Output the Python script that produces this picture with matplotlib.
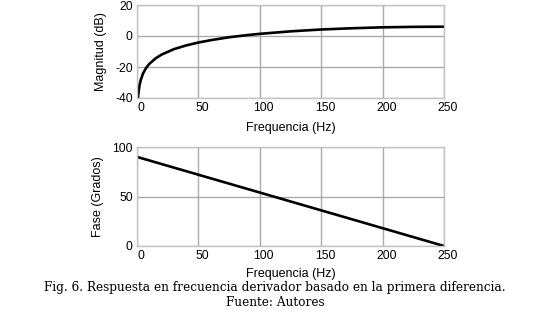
import matplotlib
matplotlib.use("Agg")
import matplotlib.pyplot as plt
from matplotlib.transforms import ScaledTranslation

# Data
freq_mag = [0.5, 1, 2, 3, 5, 7.5, 10, 15, 20, 30, 40, 50, 60, 75, 90, 100,
            125, 150, 175, 200, 225, 250]
magnitude_db = [-44.0, -38.0, -32.0, -28.5, -24.0, -20.5, -18.0, -14.5, -12.0,
                -8.5, -6.1, -4.2, -2.7, -0.8, 0.6, 1.4, 3.0, 4.2, 5.0, 5.6,
                5.9, 6.0]
freq_phase = [0, 50, 100, 150, 200, 250]
phase_deg = [90, 72, 54, 36, 18, 0]

x_ticks = [0, 50, 100, 150, 200, 250]
mag_ticks = [-40, -20, 0, 20]
phase_ticks = [0, 50, 100]

xlabel = "Frequencia (Hz)"
ylabel_mag = "Magnitud (dB)"
ylabel_phase = "Fase (Grados)"
caption1 = "Fig. 6. Respuesta en frecuencia derivador basado en la primera diferencia."
caption2 = "Fuente: Autores"

plt.rcParams['font.family'] = ['Liberation Sans', 'DejaVu Sans']
plt.rcParams['axes.unicode_minus'] = False

W, H = 550, 312
fig = plt.figure(figsize=(W / 100, H / 100), dpi=100)

def frac(l, t, r, b):
    return [l / W, 1 - b / H, (r - l) / W, (b - t) / H]

ax1 = fig.add_axes(frac(137, 5, 444, 98))
ax2 = fig.add_axes(frac(137, 147, 444, 246))

grid_c = '#aaaaaa'
spine_c = '#c4c4c4'

for ax in (ax1, ax2):
    ax.set_xlim(0, 250)
    ax.set_xticks(x_ticks)
    ax.grid(True, color=grid_c, linewidth=1.0)
    ax.set_axisbelow(True)
    for s in ax.spines.values():
        s.set_color(spine_c)
        s.set_linewidth(1.0)
    ax.tick_params(length=0, labelsize=8.8, pad=3, colors='black')
    off = ScaledTranslation(4 / 100, 0, fig.dpi_scale_trans)
    for lab in ax.get_xticklabels():
        lab.set_transform(lab.get_transform() + off)

ax1.plot(freq_mag, magnitude_db, color='black', linewidth=1.9)
ax1.set_ylim(-40, 20)
ax1.set_yticks(mag_ticks)
ax1.set_xlabel(xlabel, fontsize=9, labelpad=6)
ax1.set_ylabel(ylabel_mag, fontsize=9, labelpad=6)

ax2.plot(freq_phase, phase_deg, color='black', linewidth=1.9)
ax2.set_ylim(0, 100)
ax2.set_yticks(phase_ticks)
ax2.set_xlabel(xlabel, fontsize=9, labelpad=4)
ax2.set_ylabel(ylabel_phase, fontsize=9, labelpad=6)

fig.text(0.5, 1 - 287 / H, caption1, ha='center', va='center',
         fontsize=8.7, family='DejaVu Serif')
fig.text(0.5, 1 - 303 / H, caption2, ha='center', va='center',
         fontsize=8.7, family='DejaVu Serif')

fig.savefig("out.png", dpi=100)
